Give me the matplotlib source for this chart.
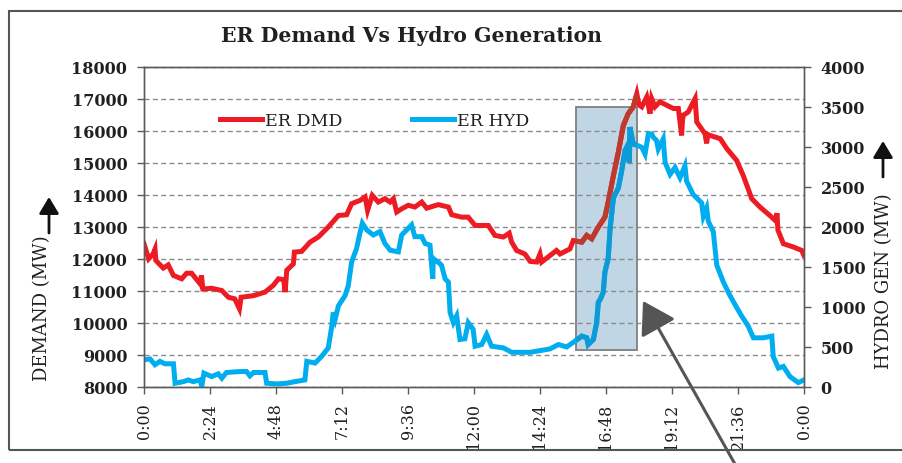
import matplotlib
matplotlib.use("Agg")
import matplotlib.pyplot as plt
import numpy as np
from matplotlib.patches import Rectangle

plt.rcParams["font.family"] = ["DejaVu Serif"]

# ER demand (MW) against hour of day
dmd_hours = [0.00, 0.17, 0.33, 0.40, 0.43, 0.70, 0.88, 1.07, 1.37, 1.55, 1.73, 2.04, 2.09, 2.14,
             2.46, 2.83, 3.07, 3.30, 3.47, 3.53, 3.98, 4.40, 4.70, 4.89, 5.08, 5.13, 5.17, 5.19,
             5.43, 5.47, 5.73, 6.04, 6.34, 6.70, 7.07, 7.37, 7.55, 7.85, 8.04, 8.13, 8.30, 8.52,
             8.76, 8.95, 9.07, 9.19, 9.37, 9.61, 9.85, 10.10, 10.28, 10.70, 11.07, 11.19, 11.55,
             11.79, 12.04, 12.52, 12.76, 13.07, 13.28, 13.37, 13.55, 13.85, 14.04, 14.28, 14.40,
             14.46, 14.76, 15.00, 15.13, 15.49, 15.61, 15.92, 16.10, 16.28, 16.52, 16.76, 16.88,
             17.07, 17.25, 17.43, 17.61, 17.79, 17.92, 18.00, 18.10, 18.28, 18.40, 18.46, 18.58,
             18.76, 19.01, 19.25, 19.43, 19.53, 19.55, 19.58, 19.61, 19.79, 20.04, 20.10, 20.40,
             20.46, 20.50, 20.58, 20.95, 21.19, 21.55, 21.79, 22.10, 22.40, 22.76, 22.95, 23.02,
             23.05, 23.25, 23.61, 23.92, 24.00]
dmd_mw = [12470, 12000, 12150, 12300, 11950, 11710, 11810, 11480, 11375, 11550, 11550, 11220, 11480, 11060,
          11080, 11010, 10800, 10750, 10440, 10800, 10850, 10960, 11170, 11375, 11350, 10960, 11400, 11640,
          11840, 12210, 12230, 12520, 12680, 12990, 13350, 13375, 13720, 13820, 13930, 13510, 13980, 13770,
          13875, 13770, 13875, 13460, 13560, 13670, 13615, 13770, 13580, 13690, 13615, 13375, 13300,
          13300, 13040, 13040, 12730, 12680, 12800, 12520, 12260, 12150, 11920, 11900, 12150,
          11900, 12100, 12260, 12150, 12310, 12570, 12520, 12730, 12625, 12990, 13300, 13770,
          14600, 15330, 16160, 16530, 16740, 17150, 16800, 16740, 17050, 16530, 17000, 16740,
          16900, 16790, 16690, 16690, 16000, 15850, 16300, 16480, 16580, 17000, 16270, 15900,
          15600, 15880, 15850, 15750, 15440, 15070, 14600, 13875, 13615, 13350, 13200, 13420,
          12900, 12470, 12370, 12260, 12100]

# ER hydro generation (MW) against hour of day
hyd_hours = [0.00, 0.22, 0.40, 0.58, 0.76, 1.07, 1.13, 1.43, 1.61, 1.79, 2.04, 2.10, 2.18, 2.46,
             2.70, 2.83, 3.00, 3.49, 3.73, 3.85, 3.98, 4.40, 4.46, 4.83, 5.19, 5.49, 5.85, 5.92,
             6.22, 6.46, 6.70, 6.83, 6.88, 6.95, 7.07, 7.31, 7.43, 7.55, 7.73, 7.85, 7.94, 8.10,
             8.34, 8.58, 8.76, 8.95, 9.25, 9.37, 9.55, 9.73, 9.85, 10.10, 10.22, 10.40, 10.50,
             10.52, 10.76, 10.82, 10.95, 11.07, 11.13, 11.25, 11.37, 11.49, 11.67, 11.79, 11.97,
             12.04, 12.28, 12.46, 12.64, 13.07, 13.37, 14.04, 14.76, 15.07, 15.37, 15.67, 15.92,
             16.10, 16.15, 16.34, 16.46, 16.52, 16.60, 16.70, 16.76, 16.88, 16.95, 17.07, 17.25,
             17.37, 17.49, 17.55, 17.65, 17.67, 17.79, 17.97, 18.10, 18.22, 18.34, 18.46, 18.52,
             18.64, 18.70, 18.88, 18.95, 19.13, 19.31, 19.49, 19.67, 19.73, 19.97, 20.28, 20.34,
             20.46, 20.52, 20.70, 20.83, 21.07, 21.31, 21.55, 21.73, 21.97, 22.16, 22.52, 22.83,
             22.88, 23.07, 23.25, 23.49, 23.79, 24.00]
hyd_mw = [341, 350, 278, 320, 290, 290, 47, 67, 88, 67, 88, 10, 173, 130,
          164, 110, 181, 193, 193, 139, 181, 181, 47, 38, 47, 67, 88, 320,
          299, 382, 488, 761, 930, 845, 1013, 1140, 1266, 1561, 1729, 1918, 2044, 1960,
          1897, 1940, 1792, 1707, 1687, 1897, 1960, 2023, 1876, 1876, 1792, 1770, 1350,
          1603, 1540, 1518, 1350, 1308, 930, 803, 887, 593, 602, 803, 719,
          509, 530, 656, 509, 488, 433, 433, 475, 530, 500, 572, 635,
          614, 530, 593, 803, 1056, 1100, 1182, 1435, 1603, 1981, 2360, 2486,
          2697, 2950, 2991, 2800, 3243, 3033, 3012, 2991, 2907, 3159, 3159, 3117,
          3075, 2970, 3096, 2802, 2654, 2739, 2612, 2760, 2570, 2402, 2297, 2129,
          2234, 2066, 1940, 1518, 1308, 1140, 993, 887, 761, 614, 614, 635,
          382, 236, 257, 130, 55, 88]

tick_hours = np.arange(0, 24.01, 2.4)
tick_labels = ["0:00", "2:24", "4:48", "7:12", "9:36", "12:00", "14:24",
               "16:48", "19:12", "21:36", "0:00"]
dmd_ticks = np.arange(8000, 18001, 1000)
hyd_ticks = np.arange(0, 4001, 500)

# highlighted evening ramp window (hours, MW on demand axis)
box_hours = (15.71, 17.91)
box_mw = (9166, 16750)

RED = "#ed1c24"
BLUE = "#00aeef"
TXT = "#231f20"
W, H = 902, 464


def window(hours, values, lo, hi):
    # part of a series that lies inside the shaded window
    h = np.asarray(hours, float)
    v = np.asarray(values, float)
    keep = (h > lo) & (h < hi)
    hh = np.concatenate([[lo], h[keep], [hi]])
    vv = np.concatenate([[np.interp(lo, h, v)], v[keep], [np.interp(hi, h, v)]])
    return hh, vv


fig = plt.figure(figsize=(W / 100, H / 100), dpi=100)
ax = fig.add_axes([144 / W, 1 - 388 / H, 660 / W, 320.5 / H])
ax2 = ax.twinx()

ax.set_axisbelow(True)
ax.grid(axis="y", color="#8a8a8a", linestyle=(0, (3.6, 2.4)), linewidth=1.0)

ax.add_patch(Rectangle((box_hours[0], box_mw[0]), box_hours[1] - box_hours[0], box_mw[1] - box_mw[0],
                       facecolor="#c0d6e4", edgecolor="#7f7f7f", linewidth=1.3, zorder=0.4))

ax.plot(dmd_hours, dmd_mw, color=RED, linewidth=3.6, solid_joinstyle="miter", label="ER DMD", zorder=2)
wh, wv = window(dmd_hours, dmd_mw, *box_hours)
ax.plot(wh, wv, color="#bc3b2e", linewidth=3.6, solid_joinstyle="miter", solid_capstyle="butt", zorder=2.1)

ax2.plot(hyd_hours, hyd_mw, color=BLUE, linewidth=3.6, solid_joinstyle="miter", zorder=2)
wh, wv = window(hyd_hours, hyd_mw, *box_hours)
ax2.plot(wh, wv, color="#0d9bd8", linewidth=3.6, solid_joinstyle="miter", solid_capstyle="butt", zorder=2.1)
ax.plot([], [], color=BLUE, linewidth=3.6, label="ER HYD")

ax.set_xlim(0, 24)
ax.set_ylim(8000, 18000)
ax2.set_ylim(0, 4000)
ax.set_xticks(tick_hours)
ax.set_xticklabels(tick_labels, rotation=90, fontsize=11.5, color=TXT)
ax.set_yticks(dmd_ticks)
ax.set_yticklabels([str(v) for v in dmd_ticks], fontsize=11.5, fontweight="bold", color=TXT)
ax2.set_yticks(hyd_ticks)
ax2.set_yticklabels([str(v) for v in hyd_ticks], fontsize=11.5, fontweight="bold", color=TXT)

for a in (ax, ax2):
    for s in a.spines.values():
        s.set_color("#5a5a5a")
        s.set_linewidth(1.0)
    a.tick_params(direction="out", length=5, width=1.0, color="#5a5a5a")
ax.tick_params(axis="y", pad=7)
ax2.tick_params(axis="y", pad=7)
ax.tick_params(axis="x", pad=6)

leg = ax.legend(loc="center left", bbox_to_anchor=(220 / W, 1 - 122 / H), bbox_transform=fig.transFigure,
                ncol=2, frameon=False, fontsize=12.5, handlelength=2.4, handletextpad=0.2,
                columnspacing=4.0, borderpad=0, borderaxespad=0)
for t in leg.get_texts():
    t.set_color(TXT)

fig.text(411.5 / W, 1 - 36 / H, "ER Demand Vs Hydro Generation", ha="center", va="center",
         fontsize=14.7, fontweight="bold", color=TXT)
fig.text(42 / W, 1 - 308 / H, "DEMAND (MW)", rotation=90, ha="center", va="center",
         fontsize=13, color=TXT)
fig.text(884 / W, 1 - 281 / H, "HYDRO GEN (MW)", rotation=90, ha="center", va="center",
         fontsize=13, color=TXT)

# small up arrows next to axis titles
ax.annotate("", xy=(49, H - 198), xytext=(49, H - 234), xycoords="figure pixels",
            arrowprops=dict(arrowstyle="-|>,head_length=0.5,head_width=0.3", color="#111111",
                            lw=2.0, mutation_scale=20, shrinkA=0, shrinkB=0))
ax.annotate("", xy=(883, H - 142), xytext=(883, H - 178), xycoords="figure pixels",
            arrowprops=dict(arrowstyle="-|>,head_length=0.5,head_width=0.3", color="#111111",
                            lw=2.0, mutation_scale=20, shrinkA=0, shrinkB=0))

# pointer to the highlighted window
ax.annotate("", xy=(643, H - 302), xytext=(740, -10), xycoords="figure pixels",
            arrowprops=dict(arrowstyle="-|>,head_length=0.65,head_width=0.4", color="#555555",
                            lw=2.2, mutation_scale=30, shrinkA=0, shrinkB=0))

fig.patches.append(Rectangle((9 / W, 1 - 451 / H), 960 / W, 439 / H, transform=fig.transFigure,
                             fill=False, edgecolor="#555555", linewidth=1.5, clip_on=False))

fig.savefig("out.png", dpi=100)
